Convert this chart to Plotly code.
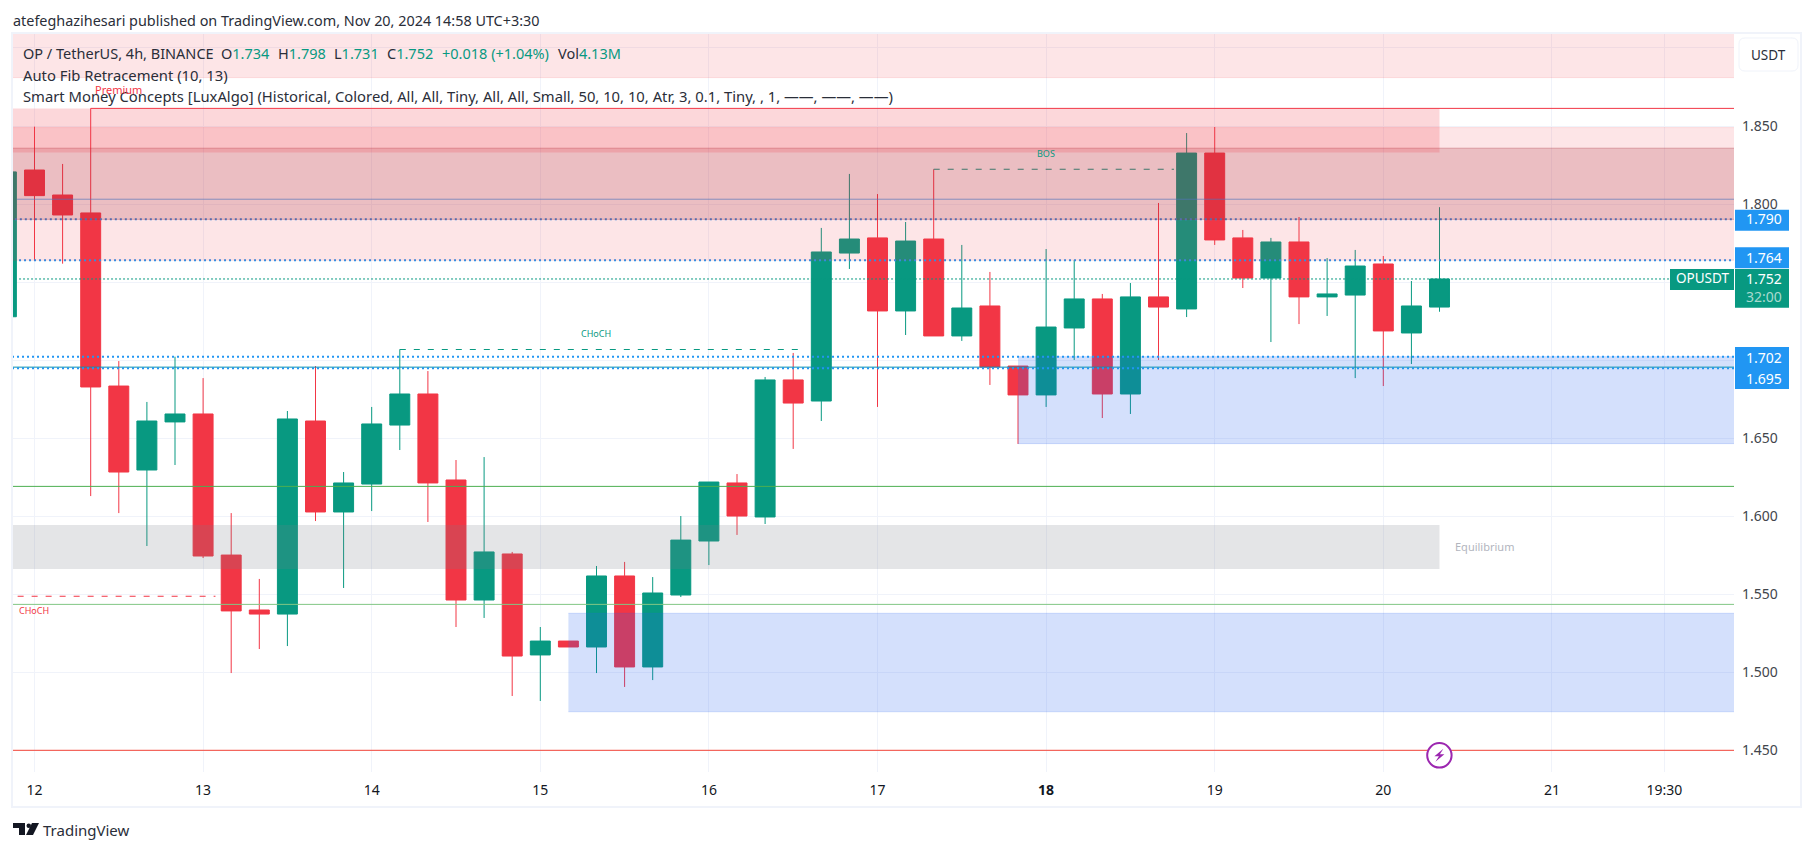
import plotly.graph_objects as go

# OHLC, 4h candles, index 0 = the 12th 00:00
candle_index = list(range(-1, 51))
opens = [1.7278, 1.8218, 1.8058, 1.7943, 1.6834, 1.6296, 1.6604, 1.6655, 1.5751, 1.5399, 1.5373, 1.6610, 1.6027, 1.6206,
         1.6584, 1.6783, 1.6232, 1.5463, 1.5758, 1.5111, 1.5200, 1.5162, 1.5617, 1.5034, 1.5495, 1.5841, 1.6213, 1.5995,
         1.6873, 1.6738, 1.7686, 1.7783, 1.7315, 1.7776, 1.7155, 1.7347, 1.6962, 1.6777, 1.7206, 1.7392, 1.6783, 1.7405,
         1.7328, 1.8327, 1.7783, 1.7526, 1.7757, 1.7405, 1.7417, 1.7616, 1.7174, 1.734]
highs = [1.8206, 1.8496, 1.8257, 1.8613, 1.6994, 1.6732, 1.7022, 1.6885, 1.6020, 1.5598, 1.6674, 1.6962, 1.6283, 1.6700,
         1.7069, 1.6930, 1.6360, 1.6379, 1.5771, 1.5290, 1.5200, 1.5681, 1.5707, 1.5610, 1.6001, 1.6219, 1.6270, 1.6892,
         1.7046, 1.7847, 1.8193, 1.8064, 1.7885, 1.8223, 1.7738, 1.7565, 1.6962, 1.7712, 1.7642, 1.7424, 1.7494, 1.8007,
         1.8455, 1.8494, 1.7834, 1.7783, 1.7917, 1.7654, 1.7706, 1.7667, 1.7507, 1.798]
lows = [1.7278, 1.7635, 1.7618, 1.6129, 1.6020, 1.5809, 1.6328, 1.5732, 1.4995, 1.5149, 1.5168, 1.5969, 1.5540, 1.6033,
        1.6424, 1.5963, 1.5290, 1.5348, 1.4848, 1.4816, 1.5162, 1.4995, 1.4906, 1.4950, 1.5482, 1.5687, 1.5880, 1.5950,
        1.6431, 1.6610, 1.7584, 1.6700, 1.7161, 1.7155, 1.7123, 1.6841, 1.6463, 1.6700, 1.7001, 1.6629, 1.6655, 1.7001,
        1.7276, 1.7738, 1.7462, 1.7116, 1.7231, 1.7283, 1.6885, 1.6834, 1.6975, 1.731]
closes = [1.8206, 1.8054, 1.7930, 1.6828, 1.6283, 1.6610, 1.6655, 1.5745, 1.5393, 1.5373, 1.6623, 1.6027, 1.6213, 1.6591,
          1.6783, 1.6213, 1.5463, 1.5771, 1.5104, 1.5200, 1.5162, 1.5617, 1.5034, 1.5508, 1.5847, 1.6219, 1.6001, 1.6873,
          1.6725, 1.7693, 1.7776, 1.7315, 1.7763, 1.7155, 1.7334, 1.6956, 1.6777, 1.7212, 1.7392, 1.6783, 1.7405, 1.7340,
          1.8327, 1.7770, 1.7526, 1.7757, 1.7405, 1.7424, 1.7603, 1.7187, 1.7347, 1.752]

x_tick_vals = [0, 6, 12, 18, 24, 30, 36, 42, 48, 54, 58]
x_tick_text = ["12", "13", "14", "15", "16", "17", "<b>18</b>", "19", "20", "21", "19:30"]
y_tick_vals = [1.45, 1.5, 1.55, 1.6, 1.65, 1.7, 1.75, 1.8, 1.85, 1.9]
# 1.700, 1.750 and 1.900 are hidden behind the price boxes and the button
y_tick_text = ["1.450", "1.500", "1.550", "1.600", "1.650", "", "", "1.800", "1.850", ""]

# zones: x0, x1, y0, y1 in candle index / price
fib_top = [-0.8, 70, 1.8810, 1.93]
fib_light = [-0.8, 70, 1.7640, 1.8490]
fib_dark = [-0.8, 70, 1.7902, 1.8358]
premium = [-0.8, 50, 1.8330, 1.8613]
equilibrium = [-0.8, 50, 1.5662, 1.5944]
demand_upper = [35, 70, 1.6465, 1.7022]
demand_lower = [19, 70, 1.4747, 1.5378]

W, H = 1814, 851
L, R, T, B = 13, 1734, 34, 772
UP, DOWN = "#089981", "#f23645"
BLUE = "#2196f3"
FONT = "Noto Sans"


def px(x):
    return (x - L) / (R - L)


def py(y):
    return (B - y) / (B - T)


fig = go.Figure(
    go.Candlestick(
        x=candle_index,
        open=opens,
        high=highs,
        low=lows,
        close=closes,
        increasing=dict(line=dict(color=UP, width=1), fillcolor=UP),
        decreasing=dict(line=dict(color=DOWN, width=1), fillcolor=DOWN),
        hoverinfo="skip",
        showlegend=False,
    )
)


def hline(price, color, x0=-0.8, x1=70, width=1, dash="solid"):
    fig.add_shape(type="line", x0=x0, x1=x1, y0=price, y1=price, layer="above", line=dict(color=color, width=width, dash=dash))


def zone(box, fill, border=None):
    fig.add_shape(type="rect", x0=box[0], x1=box[1], y0=box[2], y1=box[3], layer="above", fillcolor=fill, line_width=0)
    if border:
        hline(box[2], border, box[0], box[1])
        hline(box[3], border, box[0], box[1])


def text(x, y, s, size=14, color="#2a2e39", anchor="left", yref="paper"):
    fig.add_annotation(
        x=px(x), y=py(y) if yref == "paper" else y, xref="paper", yref=yref, text=s, showarrow=False,
        xanchor=anchor, yanchor="middle", borderpad=0, borderwidth=0, font=dict(size=size, color=color, family=FONT),
    )


def price_box(price, y0, y1, color, x0=1735, x1=1789):
    fig.add_shape(type="rect", xref="paper", x0=px(x0), x1=px(x1), yref="y", ysizemode="pixel", yanchor=price, y0=y0, y1=y1,
                  fillcolor=color, line_width=0, layer="above")


# lines that sit under the zones
hline(1.8031, "rgba(33,150,243,0.65)", x0=-0.62)
hline(1.8223, UP, x0=32, x1=40.55, dash="6px,8px")
hline(1.7902, BLUE, x0=-0.7, width=2, dash="2px,3px")
hline(1.7640, BLUE, x0=-0.55, width=2, dash="2px,3px")
hline(1.7520, UP, x0=-0.55, x1=58.2, dash="2px,2px")

zone(fib_top, "rgba(242,54,69,0.13)", "rgba(242,54,69,0.12)")
zone(fib_light, "rgba(242,54,69,0.13)", "rgba(242,54,69,0.12)")
zone(fib_dark, "rgba(165,33,50,0.2)", "rgba(165,33,50,0.3)")
zone(premium, "rgba(242,54,69,0.2)")
zone(equilibrium, "rgba(120,123,134,0.2)")
zone(demand_upper, "rgba(41,98,240,0.2)", "rgba(41,98,240,0.18)")
zone(demand_lower, "rgba(41,98,240,0.2)", "rgba(41,98,240,0.18)")

hline(1.8613, DOWN, x0=2)
hline(1.7068, UP, x0=13, x1=27.4, dash="6px,8px")
hline(1.7022, BLUE, width=2, dash="2px,3px")
hline(1.6955, "#0b8fa8")
hline(1.6948, BLUE, width=2, dash="2px,3px")
hline(1.6191, "#4caf50")
hline(1.5487, DOWN, x0=-0.6, x1=6.44, dash="6px,8px")
hline(1.5435, "#81c784")
hline(1.45, "#f44336")

# outer frame
fig.add_shape(type="rect", xref="paper", yref="paper", x0=px(12), x1=px(1801), y0=py(807), y1=py(33),
              line=dict(color="#f0f3fa", width=2), layer="below")

# price scale labels
price_box(1.79, -11, 10, BLUE)
price_box(1.764, -8, 13, BLUE)
price_box(1.702, -11, 10, BLUE)
price_box(1.695, -21, 0, BLUE)
price_box(1.752, -28.7, 10, UP)
price_box(1.752, -11, 10, UP, x0=1670, x1=1734)

text(1746, 219, "1.790", color="white")
text(1746, 257, "1.764", color="white")
text(1746, 278, "1.752", color="white")
text(1746, 296.7, "32:00", color="#a8dacf")
text(1746, 357, "1.702", color="white")
text(1746, 378, "1.695", color="white")
text(1702, 278, "OPUSDT", color="white", anchor="center", size=13.5)

# currency button, rounded corners
bl, br, bt, bb, rad = 1739, 1798, 38, 71, 6
corners = (
    f"M{px(bl + rad):.5f},{py(bt):.5f} L{px(br - rad):.5f},{py(bt):.5f} Q{px(br):.5f},{py(bt):.5f} {px(br):.5f},{py(bt + rad):.5f} "
    f"L{px(br):.5f},{py(bb - rad):.5f} Q{px(br):.5f},{py(bb):.5f} {px(br - rad):.5f},{py(bb):.5f} "
    f"L{px(bl + rad):.5f},{py(bb):.5f} Q{px(bl):.5f},{py(bb):.5f} {px(bl):.5f},{py(bb - rad):.5f} "
    f"L{px(bl):.5f},{py(bt + rad):.5f} Q{px(bl):.5f},{py(bt):.5f} {px(bl + rad):.5f},{py(bt):.5f} Z"
)
fig.add_shape(type="path", xref="paper", yref="paper", path=corners, fillcolor="white", line=dict(color="#f0f3fa", width=1), layer="above")
text(1768, 54.5, "USDT", anchor="center", size=13.5)

# header and legend
text(13, 20, "atefeghazihesari published on TradingView.com, Nov 20, 2024 14:58 UTC+3:30", size=14.4)
text(23, 53, "OP / TetherUS, 4h, BINANCE", size=14.5)
legend_parts = [("O", "1.734", 221.4), ("H", "1.798", 278), ("L", "1.731", 334), ("C", "1.752", 386.7), ("", "+0.018 (+1.04%)", 441.7), ("Vol", "4.13M", 557.5)]
for label, value, x_pos in legend_parts:
    text(x_pos, 53, f"{label}<span style='color:{UP}'>{value}</span>", size=14.5)
text(23, 74.7, "Auto Fib Retracement (10, 13)", size=14.8)
text(23, 95.7, "Smart Money Concepts [LuxAlgo] (Historical, Colored, All, All, Tiny, All, All, Small, 50, 10, 10, Atr, 3, 0.1, Tiny, , 1, ——, ——, ——)", size=14.8)

# indicator labels
text(118, 89, "Premium", size=11, color=DOWN, anchor="center")
text(1454.7, 546.7, "Equilibrium", size=11, color="#b2b5be")
text(596, 333, "CHoCH", size=9, color=UP, anchor="center")
text(1046, 153, "BOS", size=9, color=UP, anchor="center")
text(34, 610, "CHoCH", size=9, color=DOWN, anchor="center")

# lightning icon on the last candle
cx, cy = 1439.4, 755.3
fig.add_shape(type="circle", xref="paper", yref="paper", x0=px(cx - 12.2), x1=px(cx + 12.2), y0=py(cy + 12.2), y1=py(cy - 12.2),
              fillcolor="white", line=dict(color="#9c27b0", width=2), layer="above")
bolt = [(cx + 4, cy - 6.5), (cx - 5, cy + 1), (cx - 0.5, cy + 1), (cx - 4, cy + 6.5), (cx + 5, cy - 1), (cx + 0.5, cy - 1)]
fig.add_shape(type="path", xref="paper", yref="paper", fillcolor="#9c27b0", line_width=0, layer="above",
              path="M" + " L".join(f"{px(a):.5f},{py(b):.5f}" for a, b in bolt) + " Z")

# TradingView logo
logo_bar = [(13, 823), (25, 823), (25, 835), (19, 835), (19, 828), (13, 828)]
logo_slash = [(32, 823), (39, 823), (33, 835), (26, 835)]
for poly in (logo_bar, logo_slash):
    fig.add_shape(type="path", xref="paper", yref="paper", fillcolor="#131722", line_width=0, layer="above",
                  path="M" + " L".join(f"{px(a):.5f},{py(b):.5f}" for a, b in poly) + " Z")
fig.add_shape(type="circle", xref="paper", yref="paper", x0=px(26.5), x1=px(31), y0=py(828), y1=py(823.5), fillcolor="#131722", line_width=0, layer="above")
text(43, 830, "TradingView", size=15, color="#2a2e39")

fig.update_layout(
    width=W,
    height=H,
    margin=dict(l=L, r=W - R, t=T, b=H - B),
    paper_bgcolor="white",
    plot_bgcolor="white",
    showlegend=False,
    boxmode="overlay",
    boxgap=0.29,
    boxgroupgap=0,
    font=dict(family=FONT, size=14, color="#131722"),
    xaxis=dict(
        range=[-0.765, 60.48], rangeslider=dict(visible=False), tickmode="array", tickvals=x_tick_vals, ticktext=x_tick_text,
        gridcolor="#f0f3fa", gridwidth=1, showline=False, zeroline=False, ticks="", ticklabelstandoff=8,
    ),
    yaxis=dict(
        range=[1.4361, 1.90896], side="right", tickmode="array", tickvals=y_tick_vals, ticktext=y_tick_text,
        gridcolor="#f0f3fa", gridwidth=1, showline=False, zeroline=False, ticks="", ticklabelstandoff=7,
        tickfont=dict(color="#42454c"),
    ),
)

fig.write_html("out.html", config=dict(displayModeBar=False), post_script="document.body.style.margin='0';")
